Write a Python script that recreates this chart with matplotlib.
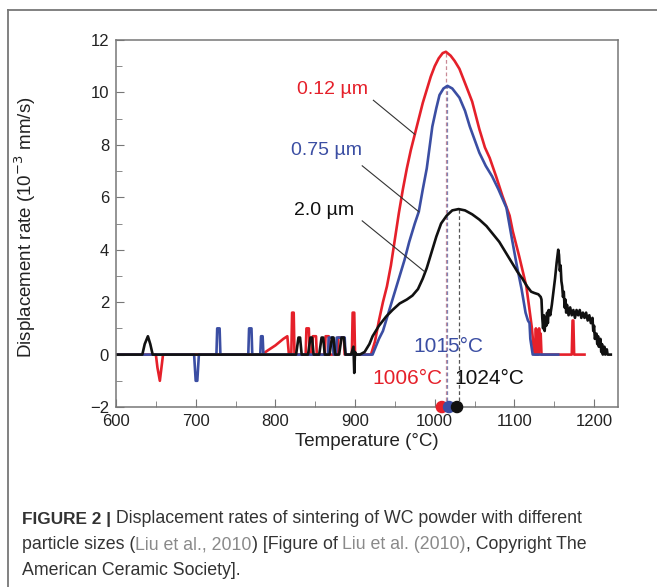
import numpy as np
import matplotlib.pyplot as plt
from matplotlib.lines import Line2D

plt.rcParams['font.family'] = ['Liberation Sans', 'DejaVu Sans']

# 0.12 um powder (red)
red_T = [600, 650, 652, 655, 657, 659, 783, 790, 800, 810, 815, 817, 820, 821, 823, 824,
         838, 839, 842, 843, 846, 847, 851, 852, 862, 863, 867, 868, 878, 879, 886, 887,
         896, 897, 899, 900, 920, 925, 930, 935, 940, 945, 950, 955, 960, 965, 970, 975,
         980, 985, 990, 995, 1000, 1005, 1010, 1014, 1020, 1025, 1031, 1040, 1047, 1056,
         1063, 1069, 1077, 1085, 1094, 1098, 1106, 1115, 1119, 1122, 1124, 1126, 1127,
         1128, 1129, 1130, 1131, 1132, 1133, 1134, 1172, 1173, 1174, 1175, 1188]
red_v = [0, 0, -0.5, -1.0, -0.5, 0, 0, 0.15, 0.35, 0.6, 0.7, 0, 0, 1.6, 1.6, 0,
         0, 1.0, 1.0, 0, 0, 0.7, 0.7, 0, 0, 0.7, 0.7, 0, 0, 0.65, 0.65, 0,
         0, 1.6, 1.6, 0, 0, 0.5, 1.3, 2.0, 2.6, 3.4, 4.4, 5.4, 6.3, 7.1, 7.8, 8.4,
         9.0, 9.6, 10.1, 10.6, 11.0, 11.3, 11.5, 11.55, 11.4, 11.2, 10.9, 10.2, 9.65, 8.6,
         7.9, 7.5, 6.8, 6.05, 5.3, 4.7, 3.75, 2.6, 1.7, 1.0, 0.3, 0, 1.0,
         0, 0.9, 0, 1.0, 0.2, 0.8, 0, 0, 1.3, 1.3, 0, 0]

# 0.75 um powder (blue)
blue_T = [600, 698, 700, 702, 704, 726, 727, 730, 731, 766, 767, 770, 771, 781, 782, 784,
          785, 866, 867, 872, 873, 876, 877, 887, 888, 922, 930, 935, 943, 950, 956, 962,
          968, 975, 980, 985, 990, 997, 1002, 1006, 1011, 1016, 1022, 1031, 1038, 1044,
          1050, 1056, 1064, 1072, 1080, 1090, 1097, 1103, 1109, 1114, 1117, 1119, 1120,
          1123, 1155]
blue_v = [0, 0, -1.0, -1.0, 0, 0, 1.0, 1.0, 0, 0, 1.0, 1.0, 0, 0, 0.7, 0.7,
          0, 0, 0.65, 0.65, 0, 0, 0.65, 0.65, 0, 0, 0.6, 0.9, 1.7, 2.4, 3.0, 3.6,
          4.3, 5.0, 5.45, 6.3, 7.1, 8.7, 9.4, 9.9, 10.15, 10.25, 10.15, 9.8, 9.3, 8.7,
          8.2, 7.7, 7.2, 6.8, 6.3, 5.6, 4.4, 3.4, 2.5, 1.6, 1.3, 1.2, 0.6,
          0, 0]

# 2.0 um powder (black)
black_T = [600, 633, 636, 640, 643, 646, 826, 829, 831, 833, 841, 844, 846, 848, 855, 858,
           860, 862, 868, 871, 873, 875, 880, 883, 886, 888, 895, 898, 899, 900, 901, 906,
           912, 918, 922, 930, 939, 947, 956, 965, 972, 979, 985, 990, 993, 998, 1002,
           1008, 1015, 1022, 1030, 1038, 1047, 1056, 1065, 1073, 1081, 1089, 1097, 1104,
           1110, 1116, 1121, 1125, 1130, 1133, 1134, 1135, 1136, 1137, 1138, 1139, 1140,
           1141, 1142, 1143, 1145, 1147, 1149, 1151, 1153, 1155, 1156, 1157, 1158, 1159,
           1160, 1161, 1162, 1163, 1164, 1165, 1166, 1168, 1170, 1172, 1174, 1176, 1178,
           1180, 1182, 1184, 1186, 1188, 1190, 1192, 1194, 1196, 1198, 1199, 1200, 1201,
           1203, 1204, 1205, 1206, 1208, 1209, 1210, 1211, 1213, 1214, 1216, 1217, 1221]
black_v = [0, 0, 0.4, 0.7, 0.4, 0, 0, 0.65, 0.65, 0, 0, 0.65, 0.65, 0, 0, 0.65,
           0.65, 0, 0, 0.65, 0.65, 0, 0, 0.65, 0.65, 0, 0, 0.3, -0.7, 0.1, 0, 0,
           0.1, 0.4, 0.7, 1.1, 1.45, 1.7, 1.95, 2.1, 2.25, 2.5, 2.9, 3.3, 3.6, 4.1, 4.5,
           5.0, 5.3, 5.5, 5.55, 5.5, 5.35, 5.15, 4.9, 4.6, 4.3, 3.9, 3.5, 3.15,
           2.9, 2.6, 2.4, 2.35, 2.3, 2.2, 2.1, 1.4, 1.0, 1.5, 0.9, 1.4, 1.1,
           1.6, 1.2, 1.7, 1.5, 1.9, 2.4, 2.9, 3.5, 4.0, 3.8, 3.2, 3.4, 2.8,
           2.6, 2.2, 2.4, 1.8, 2.1, 1.6, 1.9, 1.5, 1.8, 1.5, 1.7, 1.4, 1.7,
           1.5, 1.7, 1.4, 1.6, 1.4, 1.6, 1.3, 1.5, 1.2, 1.4, 0.9, 1.1, 0.6,
           0.8, 0.4, 0.7, 0.3, 0.6, 0.1, 0.4, 0, 0.3, 0, 0.2, 0, 0]

sizes = ['0.12 \u00b5m', '0.75 \u00b5m', '2.0 \u00b5m']
colors = ['#e5202a', '#3b4ea3', '#111111']
dash_colors = ['#c98a96', '#7d84b5', '#555555']
peak_T = [1014, 1016, 1030]
peak_v = [11.55, 10.25, 5.55]
dot_T = [1009, 1018, 1028]
onset_labels = ['1006\u00b0C', '1015\u00b0C', '1024\u00b0C']

fig = plt.figure(figsize=(6.57, 5.87), dpi=100)
ax = fig.add_axes([0.1766, 0.3066, 0.764, 0.6253])

for T, v, c in zip([red_T, blue_T, black_T], [red_v, blue_v, black_v], colors):
    ax.plot(T, v, color=c, lw=1.9, solid_joinstyle='round')

for t, pv, dc in zip(peak_T, peak_v, dash_colors):
    ax.plot([t, t], [-2, pv], color=dc, lw=0.9, ls=(0, (3, 2)), zorder=1)

ax.scatter(dot_T, [-2] * 3, s=64, color=colors, clip_on=False, zorder=6)

# curve labels with leader lines
lab_fs = 14
ax.text(872, 10.1, sizes[0], color=colors[0], fontsize=lab_fs, ha='center', va='center')
ax.text(864, 7.8, sizes[1], color=colors[1], fontsize=lab_fs, ha='center', va='center')
ax.text(861, 5.5, sizes[2], color=colors[2], fontsize=lab_fs, ha='center', va='center')
ax.plot([923, 975], [9.7, 8.4], color='#333333', lw=0.8)
ax.plot([909, 980], [7.2, 5.45], color='#333333', lw=0.8)
ax.plot([909, 987], [5.1, 3.17], color='#333333', lw=0.8)

on_fs = 15
ax.text(966, -0.9, onset_labels[0], color=colors[0], fontsize=on_fs, ha='center', va='center')
ax.text(1017, 0.3, onset_labels[1], color=colors[1], fontsize=on_fs, ha='center', va='center')
ax.text(1069, -0.9, onset_labels[2], color=colors[2], fontsize=on_fs, ha='center', va='center')

ax.set_xlim(600, 1230)
ax.set_ylim(-2, 12)
ax.set_xticks(np.arange(600, 1201, 100))
ax.set_xticks(np.arange(650, 1201, 100), minor=True)
ax.set_yticks(np.arange(-2, 13, 2))
ax.set_yticks(np.arange(-1, 12, 2), minor=True)
ax.tick_params(which='both', direction='in', top=False, right=False,
               labelsize=12, colors='#777777', labelcolor='#222222', pad=5)
ax.tick_params(which='major', length=6)
ax.tick_params(which='minor', length=4)
for s in ax.spines.values():
    s.set_color('#777777')
    s.set_linewidth(1.1)

ax.set_xlabel('Temperature (\u00b0C)', fontsize=13.5, color='#222222', labelpad=3)
ax.set_ylabel('Displacement rate (10$^{-3}$ mm/s)', fontsize=13.5, color='#222222')
ax.yaxis.set_label_coords(-0.155, 0.49)

# frame of the figure panel
fig.add_artist(Line2D([8 / 657, 8 / 657], [0, 1 - 10 / 587], color='#777777', lw=1.3))
fig.add_artist(Line2D([8 / 657, 1], [1 - 10 / 587, 1 - 10 / 587], color='#777777', lw=1.3))

# caption
cap_kw = dict(fontsize=12.8, color='#333333')
link_kw = dict(fontsize=12.8, color='#8a8a8a')


def caption_line(y_px, segments):
    txt, kw = segments[0]
    prev = fig.text(22 / 657, 1 - y_px / 587, txt, va='bottom', **kw)
    for txt, kw in segments[1:]:
        prev = ax.annotate(txt, xy=(1, 0), xycoords=prev, va='bottom', ha='left', **kw)


caption_line(527, [('FIGURE 2 |', dict(cap_kw, fontweight='bold', fontsize=12.4)),
                   (' Displacement rates of sintering of WC powder with different', cap_kw)])
caption_line(553, [('particle sizes (', cap_kw), ('Liu et al., 2010', link_kw),
                   (') [Figure of ', cap_kw), ('Liu et al. (2010)', link_kw),
                   (', Copyright The', cap_kw)])
caption_line(579, [('American Ceramic Society].', cap_kw)])

fig.savefig('out.png', dpi=100)
